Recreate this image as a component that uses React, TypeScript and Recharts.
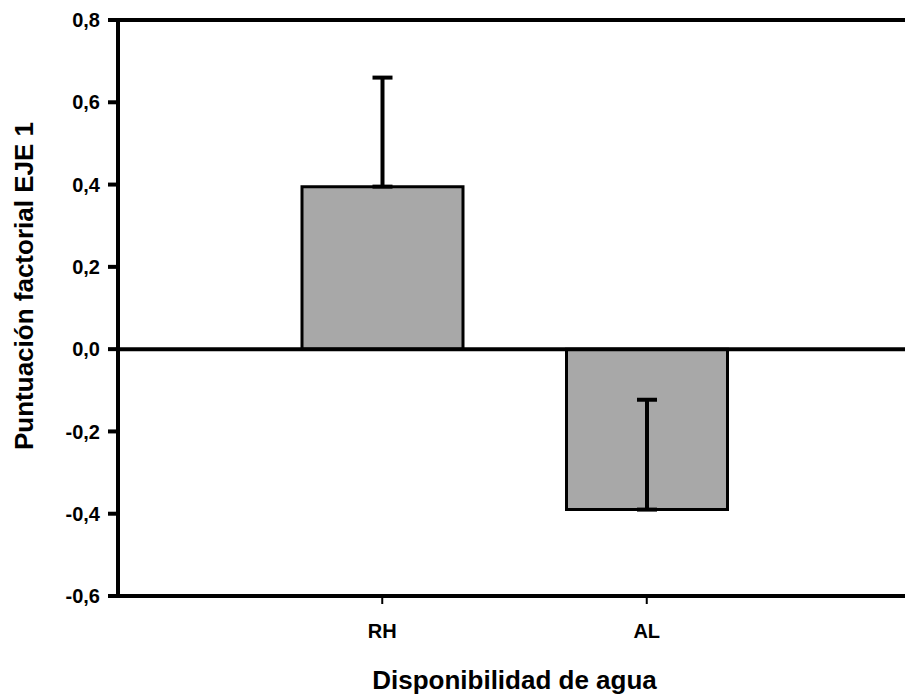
import { ComposedChart, Bar, XAxis, YAxis, ErrorBar, ReferenceLine, Label } from "recharts";

const categories = ["RH", "AL"];
const means = [0.395, -0.39];
const errLow = [0, 0];
const errHigh = [0.265, 0.267];
const yTicks = [-0.6, -0.4, -0.2, 0, 0.2, 0.4, 0.6, 0.8];

const data = categories.map((name, i) => ({
  name,
  value: means[i],
  err: [errLow[i], errHigh[i]],
}));

const FONT = '"Liberation Sans", Arial, sans-serif';
const INK = "#000";

const fmt = (v: number) => v.toFixed(1).replace(".", ",");

function YTitle({ viewBox }: any) {
  const cx = viewBox.x + 24;
  const cy = viewBox.y + viewBox.height / 2 - 22;
  return (
    <text
      x={cx}
      y={cy}
      transform={`rotate(-90 ${cx} ${cy})`}
      textAnchor="middle"
      dominantBaseline="central"
      fontFamily={FONT}
      fontWeight="bold"
      fontSize={26}
      fill={INK}
    >
      Puntuación factorial EJE 1
    </text>
  );
}

function XTitle({ viewBox }: any) {
  return (
    <text
      x={viewBox.x + viewBox.width / 2 + 3}
      y={viewBox.y + 93}
      textAnchor="middle"
      fontFamily={FONT}
      fontWeight="bold"
      fontSize={26}
      fill={INK}
    >
      Disponibilidad de agua
    </text>
  );
}

export default function App() {
  return (
    <div style={{ position: "absolute", left: 0, top: 0, background: "#fff" }}>
      <ComposedChart width={905} height={697} data={data} margin={{ top: 20, right: 0, bottom: 0, left: 0 }}>
        <XAxis
          dataKey="name"
          height={101}
          padding={{ left: 132, right: 126 }}
          axisLine={{ stroke: INK, strokeWidth: 4 }}
          tickLine={{ stroke: INK, strokeWidth: 2 }}
          tickSize={8}
          tickMargin={20}
          tick={{ fill: INK, fontSize: 20, fontWeight: "bold", fontFamily: FONT }}
        >
          <Label content={<XTitle />} />
        </XAxis>
        <YAxis
          width={118}
          domain={[-0.6, 0.8]}
          ticks={yTicks}
          tickFormatter={fmt}
          interval={0}
          axisLine={{ stroke: INK, strokeWidth: 4 }}
          tickLine={{ stroke: INK, strokeWidth: 4 }}
          tickSize={10}
          tickMargin={8}
          tick={{ fill: INK, fontSize: 20, fontWeight: "bold", fontFamily: FONT }}
        >
          <Label content={<YTitle />} />
        </YAxis>
        <Bar dataKey="value" barSize={161} fill="#a8a8a8" stroke={INK} strokeWidth={3} isAnimationActive={false}>
          <ErrorBar dataKey="err" direction="y" width={10} stroke={INK} strokeWidth={4} isAnimationActive={false} />
        </Bar>
        <ReferenceLine y={0} stroke={INK} strokeWidth={4} />
        <ReferenceLine y={0.8} stroke={INK} strokeWidth={4} />
      </ComposedChart>
    </div>
  );
}
